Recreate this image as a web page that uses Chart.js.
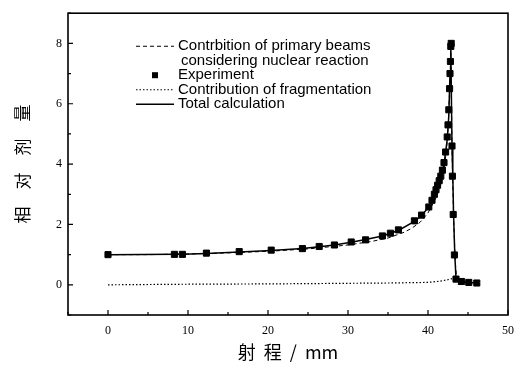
<!DOCTYPE html>
<html>
<head>
<meta charset="utf-8">
<script src="https://cdn.jsdelivr.net/npm/chart.js@4.4.1/dist/chart.umd.min.js"></script>
<style>
  html, body { margin: 0; padding: 0; background: #fff; }
  #wrap { width: 523px; height: 367px; }
</style>
</head>
<body>
<div id="wrap"><canvas id="bragg" width="523" height="367"></canvas></div>
<script>
// Experiment (squares)
var expX = [0, 8.3, 9.3, 12.3, 16.4, 20.4, 24.3, 26.4, 28.3, 30.4, 32.2, 34.3, 35.3, 36.3, 38.3, 39.2, 40.1,
            40.5, 40.8, 41.0, 41.2, 41.4, 41.6, 41.8, 42.0, 42.2, 42.4, 42.5, 42.6, 42.7, 42.75, 42.8, 42.85, 42.9,
            43.0, 43.05, 43.15, 43.3, 43.5, 44.2, 45.1, 46.1];
var expY = [1.0, 1.01, 1.01, 1.05, 1.1, 1.15, 1.2, 1.27, 1.32, 1.42, 1.49, 1.62, 1.71, 1.82, 2.12, 2.31, 2.58,
            2.8, 3.0, 3.15, 3.3, 3.45, 3.6, 3.8, 4.05, 4.4, 4.9, 5.3, 5.8, 6.5, 7.0, 7.4, 7.9, 8.0,
            4.6, 3.6, 2.33, 0.99, 0.19, 0.11, 0.08, 0.06];

// Contribution of primary beams considering nuclear reaction (dashed)
var primX = [0, 5, 10, 15, 20, 25, 30, 33, 35, 37, 38, 39, 40, 41, 41.5, 42, 42.3, 42.5, 42.7, 42.85, 43.0, 43.2, 43.4, 43.6, 43.8];
var primY = [1.0, 1.0, 1.02, 1.06, 1.11, 1.19, 1.32, 1.44, 1.55, 1.74, 1.88, 2.07, 2.38, 2.88, 3.25, 3.85, 4.45, 5.15, 6.4, 7.75, 4.5, 2.2, 0.8, 0.1, 0.0];

// Contribution of fragmentation (dotted)
var fragX = [0, 10, 20, 30, 35, 40, 41.5, 42.5, 43.2, 43.6, 44.2, 45, 46];
var fragY = [0.0, 0.02, 0.03, 0.05, 0.06, 0.08, 0.12, 0.17, 0.22, 0.15, 0.1, 0.08, 0.06];

// Total calculation (solid)
var totX = [0, 8.3, 9.3, 12.3, 16.4, 20.4, 24.3, 26.4, 28.3, 30.4, 32.2, 34.3, 36.3, 38.3, 39.2, 40.1, 40.8, 41.4,
            42.0, 42.4, 42.6, 42.75, 42.85, 43.0, 43.1, 43.2, 43.35, 43.5, 44.2, 45.1, 46.1];
var totY = [1.0, 1.01, 1.01, 1.04, 1.09, 1.14, 1.2, 1.26, 1.32, 1.41, 1.5, 1.62, 1.8, 2.1, 2.3, 2.58, 2.95, 3.4,
            4.0, 4.8, 5.6, 7.0, 7.95, 4.6, 3.6, 2.3, 1.0, 0.2, 0.1, 0.08, 0.06];

var xTicks = [0, 10, 20, 30, 40, 50];
var yTicks = [0, 2, 4, 6, 8];

var legendRows = [
    { text: "Contrbition of primary beams", style: "dash" },
    { text: "considering nuclear reaction", style: "none" },
    { text: "Experiment", style: "square" },
    { text: "Contribution of fragmentation", style: "dot" },
    { text: "Total calculation", style: "solid" }
];

function pts(xs, ys) {
    return xs.map(function (x, i) { return { x: x, y: ys[i] }; });
}

// frame, inward tick marks and the legend box
var framePlugin = {
    id: "frame",
    afterDraw: function (chart) {
        var ctx = chart.ctx;
        var a = chart.chartArea;
        var xs = chart.scales.x, ys = chart.scales.y;
        ctx.save();
        ctx.strokeStyle = "#000";
        ctx.lineWidth = 1.6;
        ctx.strokeRect(a.left, a.top, a.right - a.left, a.bottom - a.top);

        ctx.lineWidth = 1.2;
        ctx.beginPath();
        for (var v = -5; v <= 50; v += 5) {
            var px = xs.getPixelForValue(v);
            var len = (v % 10 === 0) ? 5 : 3;
            ctx.moveTo(px, a.bottom);
            ctx.lineTo(px, a.bottom - len);
        }
        for (var w = -1; w <= 9; w += 1) {
            var py = ys.getPixelForValue(w);
            var l2 = (w % 2 === 0) ? 5 : 3;
            ctx.moveTo(a.left, py);
            ctx.lineTo(a.left + l2, py);
        }
        ctx.stroke();

        // legend
        var lx0 = a.left + 68, lx1 = a.left + 106, tx = a.left + 110;
        var y0 = a.top + 33, step = 14.5;
        ctx.font = "15px 'Liberation Sans', Arial, sans-serif";
        ctx.fillStyle = "#000";
        ctx.textBaseline = "middle";
        legendRows.forEach(function (r, i) {
            var y = y0 + i * step;
            ctx.lineWidth = r.style === "solid" ? 1.5 : 1.1;
            if (r.style === "dash") ctx.setLineDash([4, 3]);
            else if (r.style === "dot") ctx.setLineDash([1.5, 2]);
            else ctx.setLineDash([]);
            if (r.style === "dash" || r.style === "dot" || r.style === "solid") {
                ctx.beginPath();
                ctx.moveTo(lx0, y);
                ctx.lineTo(lx1, y);
                ctx.stroke();
            } else if (r.style === "square") {
                ctx.fillRect((lx0 + lx1) / 2 - 3, y - 3, 6, 6);
            }
            ctx.setLineDash([]);
            ctx.fillText(r.text, r.style === "none" ? tx + 3 : tx, y);
        });
        ctx.restore();
    }
};

var ctx = document.getElementById("bragg").getContext("2d");
var chart = new Chart(ctx, {
    type: "scatter",
    data: {
        datasets: [
            {
                label: "Contrbition of primary beams considering nuclear reaction",
                data: pts(primX, primY),
                showLine: true,
                borderColor: "#000",
                borderWidth: 1,
                borderDash: [4, 3],
                pointRadius: 0,
                tension: 0
            },
            {
                label: "Contribution of fragmentation",
                data: pts(fragX, fragY),
                showLine: true,
                borderColor: "#000",
                borderWidth: 1.2,
                borderDash: [1.5, 2],
                pointRadius: 0,
                tension: 0
            },
            {
                label: "Total calculation",
                data: pts(totX, totY),
                showLine: true,
                borderColor: "#000",
                borderWidth: 1.5,
                pointRadius: 0,
                tension: 0
            },
            {
                label: "Experiment",
                data: pts(expX, expY),
                showLine: false,
                pointStyle: "rect",
                pointRadius: 4.3,
                backgroundColor: "#000",
                borderColor: "#000",
                borderWidth: 1
            }
        ]
    },
    options: {
        responsive: false,
        animation: false,
        layout: { padding: { left: 0, right: 8, top: 12, bottom: 0 } },
        plugins: {
            legend: { display: false },
            tooltip: { enabled: false }
        },
        scales: {
            x: {
                type: "linear",
                min: -5,
                max: 50,
                afterBuildTicks: function (s) { s.ticks = xTicks.map(function (v) { return { value: v }; }); },
                afterFit: function (s) { s.height = 52; },
                grid: { display: false, drawTicks: false, tickLength: 0 },
                border: { display: false },
                ticks: {
                    padding: 9,
                    maxRotation: 0,
                    color: "#000",
                    font: { family: "'Liberation Serif', 'Times New Roman', serif", size: 12 }
                },
                title: {
                    display: true,
                    text: "射  程  /  mm",
                    color: "#000",
                    padding: 4,
                    font: { family: "'Noto Sans CJK SC', sans-serif", size: 18 }
                }
            },
            y: {
                type: "linear",
                min: -1,
                max: 9,
                afterBuildTicks: function (s) { s.ticks = yTicks.map(function (v) { return { value: v }; }); },
                afterFit: function (s) { s.width = 68; },
                grid: { display: false, drawTicks: false, tickLength: 0 },
                border: { display: false },
                ticks: {
                    padding: 6,
                    color: "#000",
                    font: { family: "'Liberation Serif', 'Times New Roman', serif", size: 12 }
                },
                title: {
                    display: true,
                    text: "相　对　剂　量",
                    color: "#000",
                    padding: 12,
                    font: { family: "'Noto Sans CJK SC', sans-serif", size: 17 }
                }
            }
        }
    },
    plugins: [framePlugin]
});
</script>
</body>
</html>
